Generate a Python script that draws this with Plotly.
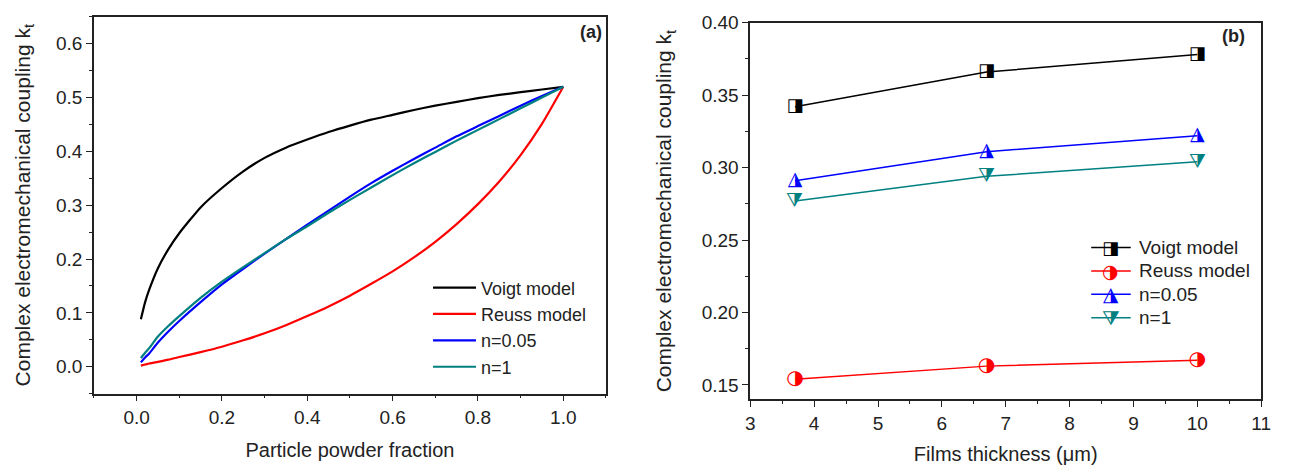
import plotly.graph_objects as go

# ---------------- Panel (a) data ----------------
frac = [0.01, 0.02, 0.03, 0.05, 0.075, 0.1, 0.15, 0.2, 0.25, 0.3, 0.35, 0.4, 0.45,
        0.5, 0.55, 0.6, 0.65, 0.7, 0.75, 0.8, 0.85, 0.9, 0.95, 1.0]
voigt_a = [0.088, 0.120, 0.144, 0.183, 0.219, 0.248, 0.296, 0.332, 0.363, 0.388, 0.407,
           0.422, 0.436, 0.448, 0.459, 0.468, 0.477, 0.485, 0.492, 0.499, 0.505, 0.510,
           0.515, 0.520]
reuss_a = [0.002, 0.004, 0.006, 0.009, 0.013, 0.018, 0.027, 0.037, 0.049, 0.062, 0.077,
           0.094, 0.112, 0.132, 0.154, 0.177, 0.203, 0.232, 0.265, 0.302, 0.344, 0.393,
           0.451, 0.520]
n005_a = [0.008, 0.017, 0.025, 0.045, 0.066, 0.085, 0.120, 0.153, 0.182, 0.210, 0.237,
          0.264, 0.290, 0.316, 0.341, 0.364, 0.386, 0.407, 0.428, 0.447, 0.466, 0.485,
          0.503, 0.520]
n1_a = [0.016, 0.026, 0.035, 0.056, 0.076, 0.094, 0.128, 0.158, 0.185, 0.211, 0.237,
        0.261, 0.286, 0.310, 0.333, 0.356, 0.378, 0.399, 0.420, 0.440, 0.460, 0.480,
        0.500, 0.520]

# ---------------- Panel (b) data ----------------
thick = [3.7, 6.7, 10.0]
voigt_b = [0.342, 0.366, 0.378]
reuss_b = [0.154, 0.163, 0.167]
n005_b = [0.291, 0.311, 0.322]
n1_b = [0.277, 0.294, 0.304]

names = ["Voigt model", "Reuss model", "n=0.05", "n=1"]
colors = ["#000000", "#ff0000", "#0000ff", "#008080"]
# half-filled marker glyphs (right half filled)
glyphs = ["\u25E8", "\u25D1", "\u25EE", "\u29E9"]
glyph_sizes = [18, 20, 19, 19]
legend_glyph_sizes = [18, 19, 20, 20]

FONT = "Liberation Sans, Arial, sans-serif"
AX = "#222222"
GFONT = "DejaVu Sans"

fig = go.Figure()

for nm, col, ys in zip(names, colors, [voigt_a, reuss_a, n005_a, n1_a]):
    fig.add_trace(go.Scatter(x=frac, y=ys, mode="lines", name=nm,
                             line=dict(color=col, width=2.2, shape="spline", smoothing=0.5),
                             xaxis="x", yaxis="y", legend="legend"))

series_b = [voigt_b, reuss_b, n005_b, n1_b]
for nm, col, ys, g, gs in zip(names, colors, series_b, glyphs, glyph_sizes):
    fig.add_trace(go.Scatter(x=thick, y=ys, mode="lines", name=nm, showlegend=False,
                             line=dict(color=col, width=1.5), xaxis="x2", yaxis="y2"))
    fig.add_trace(go.Scatter(x=thick, y=ys, mode="text", text=[g] * len(thick),
                             textposition="middle center", showlegend=False,
                             textfont=dict(family=GFONT, size=gs, color=col),
                             xaxis="x2", yaxis="y2", hoverinfo="skip"))

axis_common = dict(showline=True, linewidth=1.6, linecolor=AX, mirror=True,
                   ticks="outside", ticklen=6, tickwidth=1.3, tickcolor=AX,
                   showgrid=False, zeroline=False,
                   tickfont=dict(family=FONT, size=19, color="#222222"))

fig.update_layout(
    width=1289, height=467,
    margin=dict(l=0, r=0, t=0, b=0),
    paper_bgcolor="white", plot_bgcolor="white",
    font=dict(family=FONT, color="#222222"),
    xaxis=dict(domain=[0.0698, 0.4717], range=[-0.1, 1.1], dtick=0.2, tick0=0,
               tickformat=".1f",
               minor=dict(dtick=0.1, ticks="outside", ticklen=3, tickcolor=AX),
               title=dict(text="Particle powder fraction", standoff=16,
                          font=dict(family=FONT, size=20)),
               **axis_common),
    yaxis=dict(domain=[0.1606, 0.985], range=[-0.05, 0.65], dtick=0.1, tick0=0,
               tickformat=".1f",
               minor=dict(dtick=0.05, ticks="outside", ticklen=3, tickcolor=AX),
               title=dict(text="Complex electromechanical coupling k<sub>t</sub>", standoff=20,
                          font=dict(family=FONT, size=21)),
               **axis_common),
    xaxis2=dict(domain=[0.585, 0.986], range=[3, 11], dtick=1, tick0=3,
                minor=dict(dtick=0.5, ticks="outside", ticklen=3, tickcolor=AX),
                title=dict(text="Films thickness (\u03bcm)", standoff=14,
                           font=dict(family=FONT, size=20)),
                anchor="y2", **axis_common),
    yaxis2=dict(domain=[0.1478, 0.9722], range=[0.14, 0.40], dtick=0.05, tick0=0.15,
                tickformat=".2f",
                minor=dict(dtick=0.025, ticks="outside", ticklen=3, tickcolor=AX),
                title=dict(text="Complex electromechanical coupling k<sub>t</sub>", standoff=24,
                           font=dict(family=FONT, size=21)),
                anchor="x2", **axis_common),
    legend=dict(x=428 / 1289, y=1 - 265 / 467, xanchor="left", yanchor="top",
                bgcolor="rgba(0,0,0,0)", borderwidth=0, itemwidth=43,
                font=dict(family=FONT, size=18, color="#222222"),
                tracegroupgap=0),
    showlegend=True,
)

# panel labels
fig.add_annotation(text="<b>(a)</b>", x=606 / 1289, y=1 - 22 / 467, xref="paper", yref="paper",
                   xanchor="right", yanchor="middle", showarrow=False,
                   font=dict(family=FONT, size=18, color="#222222"))
fig.add_annotation(text="<b>(b)</b>", x=1257 / 1289, y=1 - 27 / 467, xref="paper", yref="paper",
                   xanchor="right", yanchor="middle", showarrow=False,
                   font=dict(family=FONT, size=18, color="#222222"))

# manual legend for panel (b) (line + half-filled glyph + label)
leg_y = [242.7, 266.7, 290.5, 314.5]
for nm, col, g, gs, ypx in zip(names, colors, glyphs, legend_glyph_sizes, leg_y):
    yp = 1 - ypx / 467
    fig.add_shape(type="line", xref="paper", yref="paper", x0=1099 / 1289, x1=1139 / 1289,
                  y0=yp, y1=yp, line=dict(color=col, width=1.5))
    fig.add_annotation(text=g, x=1119 / 1289, y=yp, xref="paper", yref="paper",
                       xanchor="center", yanchor="middle", showarrow=False,
                       font=dict(family=GFONT, size=gs, color=col))
    fig.add_annotation(text=nm, x=1145 / 1289, y=yp, xref="paper", yref="paper",
                       xanchor="left", yanchor="middle", showarrow=False,
                       font=dict(family=FONT, size=19, color="#222222"))

fig.write_html("out.html")
